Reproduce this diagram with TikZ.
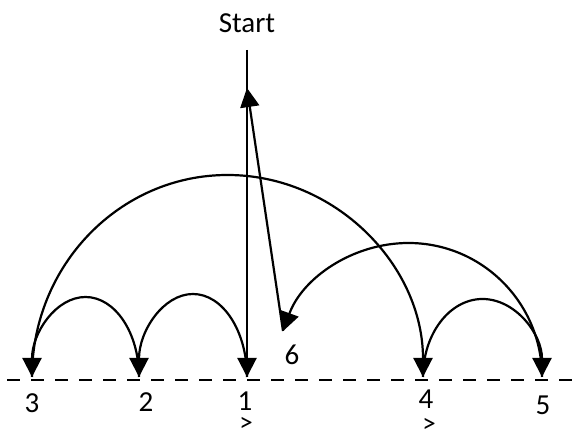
\documentclass[tikz,border=0pt]{standalone}
\usepackage{fontspec}
\setmainfont{Carlito}
\usetikzlibrary{arrows.meta}
\begin{document}
\begin{tikzpicture}[x=1pt,y=1pt,
  conn/.style={line width=2.2pt,-{Triangle[length=19pt,width=19pt]}},
  lbl/.style={inner sep=0pt,font=\fontsize{29}{32}\selectfont},
  small/.style={inner sep=0pt,anchor=base,text depth=0pt,font=\fontsize{27}{29}\selectfont}]
\useasboundingbox (0,0) rectangle (574,430);
% base dashed line
\coordinate (dl) at (7,50);
\coordinate (dr) at (574,50);
\draw[line width=2pt,dash pattern=on 13pt off 11pt] (dl) -- (dr);
% points
\coordinate (p3) at (32,53);
\coordinate (p2) at (139,53);
\coordinate (p1) at (247,53);
\coordinate (p4) at (423,53);
\coordinate (p5) at (542,53);
\coordinate (p6) at (283,99);
\coordinate (stop) at (247,380);
\coordinate (stip) at (247,342);
% labels
\node[lbl] (start) at (247,407) {Start};
\node[lbl] (l3) at (32,27) {3};
\node[lbl] (l2) at (146,28) {2};
\node[lbl] (l1) at (245,29) {1};
\node[lbl] (l4) at (426,31) {4};
\node[lbl] (l5) at (543,25) {5};
\node[lbl] (l6) at (292,75) {6};
\node[small] (g1) at (246,-2) {>};
\node[small] (g4) at (429,-3) {>};
% connectors
\draw[conn] (stop) -- (p1);
\draw[conn] (p1) arc[start angle=0,end angle=180,x radius=54,y radius=83];
\draw[conn] (p2) arc[start angle=0,end angle=180,x radius=53.5,y radius=80];
\draw[conn] (p3) arc[start angle=180,end angle=0,x radius=195.5,y radius=202];
\draw[conn] (p4) arc[start angle=180,end angle=0,x radius=59.5,y radius=78];
\draw[conn] (p5) arc[start angle=0,end angle=160,x radius=133.5,y radius=134];
\draw[conn] (p6) -- (stip);
\end{tikzpicture}
\end{document}
